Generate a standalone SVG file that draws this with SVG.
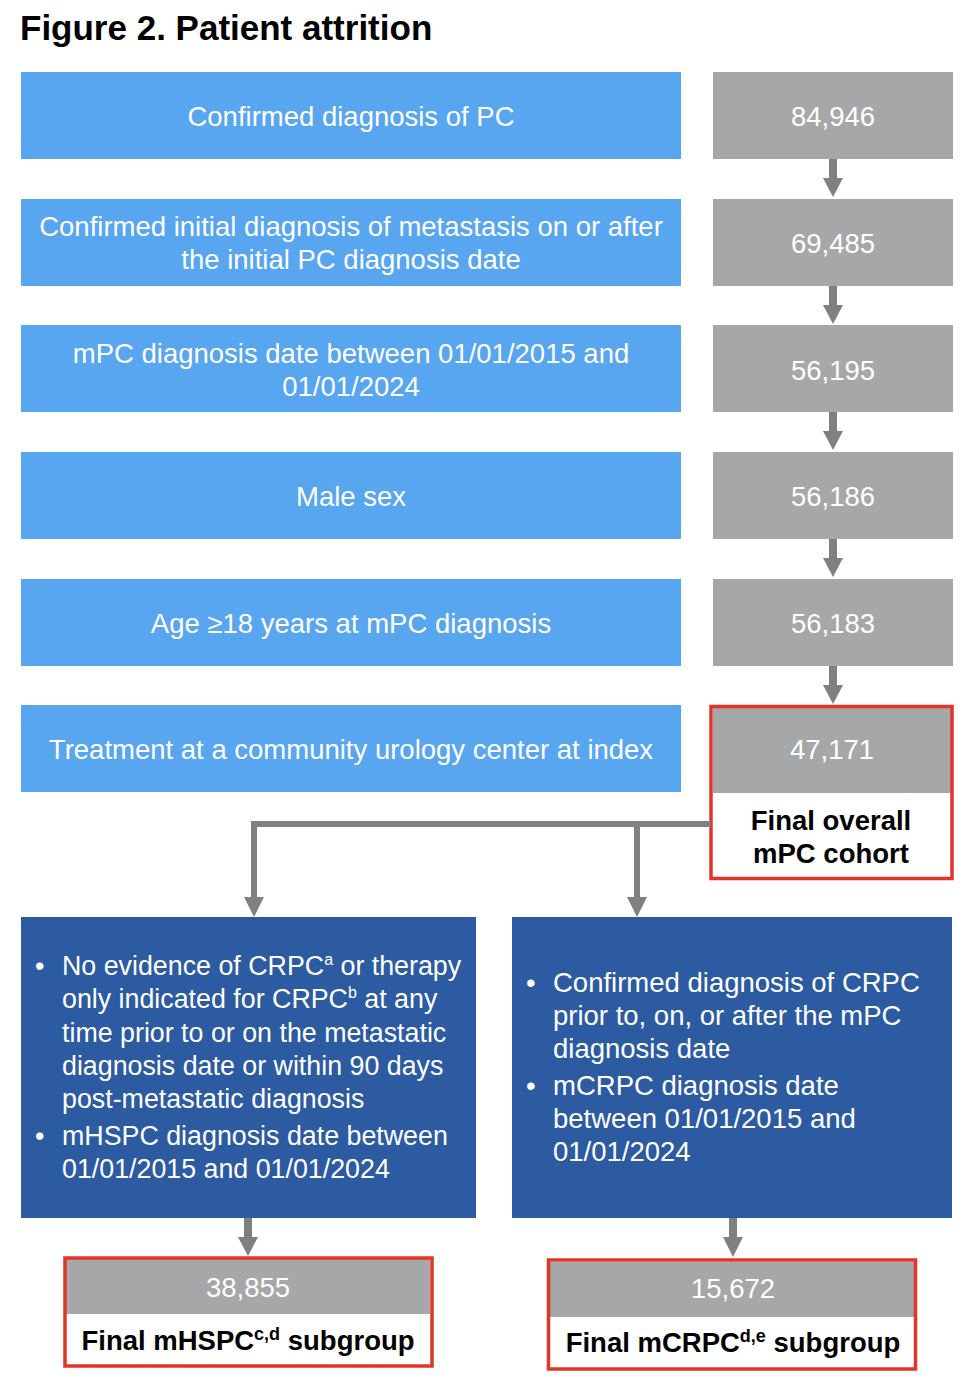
<svg xmlns="http://www.w3.org/2000/svg" width="980" height="1388" viewBox="0 0 980 1388">
<defs>
<style>
text{font-family:"Liberation Sans",Arial,sans-serif}
.lb{fill:#58A5F0}
.gr{fill:#A6A7A9}
.db{fill:#2C5BA1}
.red{fill:none;stroke:#E3342A;stroke-width:3.5}
.wt{fill:#fff;font-size:27.5px;text-anchor:middle}
.wl{fill:#fff;font-size:27.5px}
.wm{fill:#fff;font-size:26.8px}
.bk{fill:#000;font-size:27.5px;font-weight:bold;text-anchor:middle}
.ln{fill:none;stroke:#808080;stroke-width:6}
.hd{fill:#808080}
</style>
</defs>
<rect width="980" height="1388" fill="#fff"/>
<text x="20" y="40" style="font-size:35px;font-weight:bold" fill="#000">Figure 2. Patient attrition</text>

<g id="n1"><rect class="lb" x="21" y="72" width="660" height="87"/><text class="wt" x="351" y="126">Confirmed diagnosis of PC</text></g>
<g id="c1"><rect class="gr" x="713" y="72" width="240" height="87"/><text class="wt" x="833" y="126">84,946</text></g>
<g id="n2"><rect class="lb" x="21" y="199" width="660" height="87"/><text class="wt" x="351" y="236">Confirmed initial diagnosis of metastasis on or after</text><text class="wt" x="351" y="269">the initial PC diagnosis date</text></g>
<g id="c2"><rect class="gr" x="713" y="199" width="240" height="87"/><text class="wt" x="833" y="253">69,485</text></g>
<g id="n3"><rect class="lb" x="21" y="325" width="660" height="87"/><text class="wt" x="351" y="363">mPC diagnosis date between 01/01/2015 and</text><text class="wt" x="351" y="396">01/01/2024</text></g>
<g id="c3"><rect class="gr" x="713" y="325" width="240" height="87"/><text class="wt" x="833" y="380">56,195</text></g>
<g id="n4"><rect class="lb" x="21" y="452" width="660" height="87"/><text class="wt" x="351" y="506">Male sex</text></g>
<g id="c4"><rect class="gr" x="713" y="452" width="240" height="87"/><text class="wt" x="833" y="506">56,186</text></g>
<g id="n5"><rect class="lb" x="21" y="579" width="660" height="87"/><text class="wt" x="351" y="633">Age ≥18 years at mPC diagnosis</text></g>
<g id="c5"><rect class="gr" x="713" y="579" width="240" height="87"/><text class="wt" x="833" y="633">56,183</text></g>
<g id="n6"><rect class="lb" x="21" y="705" width="660" height="87"/><text class="wt" x="351" y="759">Treatment at a community urology center at index</text></g>
<g id="c6"><rect class="gr" x="713" y="708" width="238" height="85"/><rect class="red" x="711" y="706.5" width="241" height="172"/><text class="wt" x="832" y="759">47,171</text><text class="bk" x="831" y="830">Final overall</text><text class="bk" x="831" y="863">mPC cohort</text></g>

<g id="mh"><rect class="db" x="21" y="917" width="455" height="301"/>
<text class="wm" x="35" y="975">•</text><text class="wm" x="62" y="975">No evidence of CRPC<tspan dy="-10" style="font-size:16px">a</tspan><tspan dy="10"> or therapy</tspan></text>
<text class="wm" x="62" y="1008">only indicated for CRPC<tspan dy="-10" style="font-size:16px">b</tspan><tspan dy="10"> at any</tspan></text>
<text class="wm" x="62" y="1042">time prior to or on the metastatic</text>
<text class="wm" x="62" y="1075">diagnosis date or within 90 days</text>
<text class="wm" x="62" y="1108">post-metastatic diagnosis</text>
<text class="wm" x="35" y="1145">•</text><text class="wm" x="62" y="1145">mHSPC diagnosis date between</text>
<text class="wm" x="62" y="1178">01/01/2015 and 01/01/2024</text>
</g>
<g id="mc"><rect class="db" x="512" y="917" width="440" height="301"/>
<text class="wl" x="526" y="992">•</text><text class="wl" x="553" y="992">Confirmed diagnosis of CRPC</text>
<text class="wl" x="553" y="1025">prior to, on, or after the mPC</text>
<text class="wl" x="553" y="1058">diagnosis date</text>
<text class="wl" x="526" y="1095">•</text><text class="wl" x="553" y="1095">mCRPC diagnosis date</text>
<text class="wl" x="553" y="1128">between 01/01/2015 and</text>
<text class="wl" x="553" y="1161">01/01/2024</text>
</g>

<g id="fh"><rect class="gr" x="66" y="1259" width="364" height="55"/><rect class="red" x="65" y="1258" width="367" height="108"/><text class="wt" x="248" y="1297">38,855</text><text class="bk" x="248" y="1350">Final mHSPC<tspan dy="-10" style="font-size:18px">c,d</tspan><tspan dy="10"> subgroup</tspan></text></g>
<g id="fc"><rect class="gr" x="550" y="1262" width="364" height="55"/><rect class="red" x="548.5" y="1260" width="367" height="109"/><text class="wt" x="733" y="1298">15,672</text><text class="bk" x="733" y="1352">Final mCRPC<tspan dy="-10" style="font-size:18px">d,e</tspan><tspan dy="10"> subgroup</tspan></text></g>

<g id="connectors">
<rect class="hd" x="829" y="159" width="8" height="20"/><polygon class="hd" points="823,178 843,178 833,197"/>
<rect class="hd" x="829" y="286" width="8" height="20"/><polygon class="hd" points="823,305 843,305 833,324"/>
<rect class="hd" x="829" y="412" width="8" height="20"/><polygon class="hd" points="823,431 843,431 833,450"/>
<rect class="hd" x="829" y="539" width="8" height="20"/><polygon class="hd" points="823,558 843,558 833,577"/>
<rect class="hd" x="829" y="666" width="8" height="20"/><polygon class="hd" points="823,685 843,685 833,704"/>
<polyline class="ln" points="711,824 254,824 254,898"/>
<line class="ln" x1="637" y1="824" x2="637" y2="898"/>
<polygon class="hd" points="244,897 264,897 254,917"/>
<polygon class="hd" points="627,897 647,897 637,917"/>
<rect class="hd" x="244" y="1218" width="8" height="20"/><polygon class="hd" points="238,1237 258,1237 248,1256"/>
<rect class="hd" x="729" y="1218" width="8" height="20"/><polygon class="hd" points="723,1237 743,1237 733,1257"/>
</g>
</svg>
